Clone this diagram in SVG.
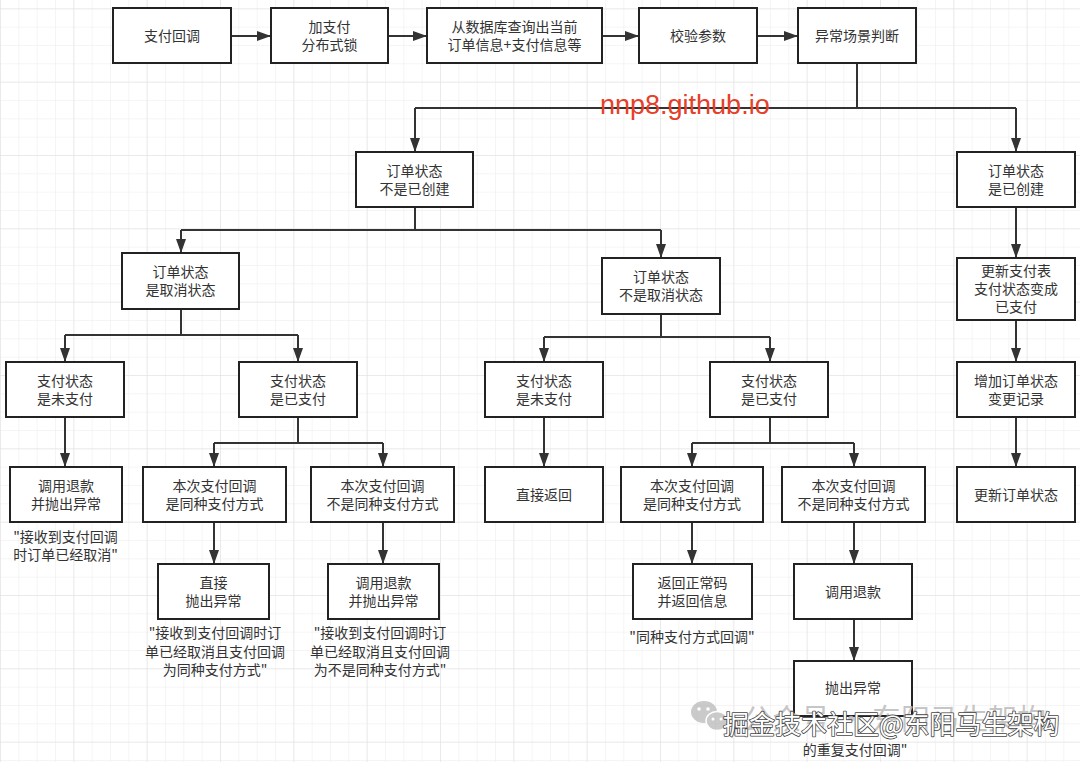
<svg xmlns="http://www.w3.org/2000/svg" width="1080" height="762" viewBox="0 0 1080 762">
<style>
.b{fill:#fff;stroke:#222;stroke-width:2}
.t{font-family:"Noto Sans CJK SC","Noto Sans",sans-serif;font-size:14px;fill:#333;text-anchor:middle}
.c{fill:none;stroke:#333;stroke-width:2}
.a{fill:none;stroke:#333;stroke-width:2;marker-end:url(#ah)}
</style>
<defs>
<marker id="ah" markerUnits="userSpaceOnUse" markerWidth="14" markerHeight="10" refX="13" refY="5" orient="auto">
<path d="M0,0 L14,5 L0,10 Z" fill="#333"/>
</marker>
<pattern id="gmin" patternUnits="userSpaceOnUse" x="0" y="8.333" width="18.333" height="18.333">
<path d="M0,0 H18.333 M0,0 V18.333" fill="none" stroke="#ececec" stroke-width="1"/>
</pattern>
<pattern id="gmaj" patternUnits="userSpaceOnUse" x="0" y="8.333" width="73.333" height="73.333">
<path d="M0,0 H73.333 M0,0 V73.333" fill="none" stroke="#e0e0e0" stroke-width="1"/>
</pattern>
</defs>
<rect width="1080" height="762" fill="#fff"/>
<rect width="1080" height="762" fill="url(#gmin)"/>
<rect width="1080" height="762" fill="url(#gmaj)"/>

<g id="connectors">
<path class="a" d="M231,36 H270"/>
<path class="a" d="M388,36 H426"/>
<path class="a" d="M602,36 H638"/>
<path class="a" d="M757,36 H797"/>
<path class="c" d="M857,63 V108"/>
<path class="c" d="M415,108 H1016"/>
<path class="a" d="M415,108 V151"/>
<path class="a" d="M1016,108 V151"/>
<path class="c" d="M415,207 V230"/>
<path class="c" d="M181,230 H661"/>
<path class="a" d="M181,230 V252"/>
<path class="a" d="M661,230 V257"/>
<path class="a" d="M1016,207 V257"/>
<path class="a" d="M1016,320 V361"/>
<path class="a" d="M1016,417 V466"/>
<path class="c" d="M181,309 V335"/>
<path class="c" d="M65,335 H298"/>
<path class="a" d="M65,335 V361"/>
<path class="a" d="M298,335 V361"/>
<path class="c" d="M661,314 V337"/>
<path class="c" d="M544,337 H770"/>
<path class="a" d="M544,337 V361"/>
<path class="a" d="M770,337 V361"/>
<path class="a" d="M65,417 V466"/>
<path class="c" d="M298,417 V443"/>
<path class="c" d="M214,443 H383"/>
<path class="a" d="M214,443 V466"/>
<path class="a" d="M383,443 V466"/>
<path class="a" d="M214,522 V563"/>
<path class="a" d="M383,522 V563"/>
<path class="a" d="M544,417 V466"/>
<path class="c" d="M770,417 V443"/>
<path class="c" d="M692,443 H854"/>
<path class="a" d="M692,443 V466"/>
<path class="a" d="M854,443 V466"/>
<path class="a" d="M692,522 V563"/>
<path class="a" d="M854,522 V563"/>
<path class="a" d="M854,619 V660"/>
</g>

<g id="n1"><rect class="b" x="113" y="8" width="118" height="55"/><text class="t" x="172" y="41">支付回调</text></g>
<g id="n2"><rect class="b" x="271" y="8" width="117" height="55"/><text class="t" x="329.5" y="32">加支付</text><text class="t" x="329.5" y="50">分布式锁</text></g>
<g id="n3"><rect class="b" x="427" y="8" width="175" height="55"/><text class="t" x="514.5" y="32">从数据库查询出当前</text><text class="t" x="514.5" y="50">订单信息+支付信息等</text></g>
<g id="n4"><rect class="b" x="639" y="8" width="118" height="55"/><text class="t" x="698" y="41">校验参数</text></g>
<g id="n5"><rect class="b" x="798" y="8" width="118" height="55"/><text class="t" x="857" y="41">异常场景判断</text></g>

<g id="n6"><rect class="b" x="356" y="152" width="117" height="55"/><text class="t" x="414.5" y="176">订单状态</text><text class="t" x="414.5" y="194">不是已创建</text></g>
<g id="n7"><rect class="b" x="957" y="152" width="118" height="55"/><text class="t" x="1016" y="176">订单状态</text><text class="t" x="1016" y="194">是已创建</text></g>

<g id="n8"><rect class="b" x="122" y="253" width="117" height="56"/><text class="t" x="180.5" y="277">订单状态</text><text class="t" x="180.5" y="295">是取消状态</text></g>
<g id="n9"><rect class="b" x="602" y="258" width="118" height="56"/><text class="t" x="661" y="282">订单状态</text><text class="t" x="661" y="300">不是取消状态</text></g>
<g id="n10"><rect class="b" x="957" y="258" width="118" height="62"/><text class="t" x="1016" y="276">更新支付表</text><text class="t" x="1016" y="294">支付状态变成</text><text class="t" x="1016" y="312">已支付</text></g>
<g id="n11"><rect class="b" x="957" y="362" width="118" height="55"/><text class="t" x="1016" y="386">增加订单状态</text><text class="t" x="1016" y="404">变更记录</text></g>
<g id="n12"><rect class="b" x="957" y="467" width="118" height="55"/><text class="t" x="1016" y="500">更新订单状态</text></g>

<g id="n13"><rect class="b" x="6" y="362" width="118" height="55"/><text class="t" x="65" y="386">支付状态</text><text class="t" x="65" y="404">是未支付</text></g>
<g id="n14"><rect class="b" x="239" y="362" width="118" height="55"/><text class="t" x="298" y="386">支付状态</text><text class="t" x="298" y="404">是已支付</text></g>
<g id="n15"><rect class="b" x="485" y="362" width="118" height="55"/><text class="t" x="544" y="386">支付状态</text><text class="t" x="544" y="404">是未支付</text></g>
<g id="n16"><rect class="b" x="710" y="362" width="118" height="55"/><text class="t" x="769" y="386">支付状态</text><text class="t" x="769" y="404">是已支付</text></g>

<g id="n17"><rect class="b" x="10" y="467" width="112" height="55"/><text class="t" x="66" y="491">调用退款</text><text class="t" x="66" y="509">并抛出异常</text>
<text class="t" x="65.5" y="542">"接收到支付回调</text><text class="t" x="65.5" y="560">时订单已经取消"</text></g>
<g id="n18"><rect class="b" x="143" y="467" width="143" height="55"/><text class="t" x="214.5" y="491">本次支付回调</text><text class="t" x="214.5" y="509">是同种支付方式</text></g>
<g id="n19"><rect class="b" x="311" y="467" width="143" height="55"/><text class="t" x="382.5" y="491">本次支付回调</text><text class="t" x="382.5" y="509">不是同种支付方式</text></g>
<g id="n20"><rect class="b" x="158" y="564" width="111" height="55"/><text class="t" x="213.5" y="588">直接</text><text class="t" x="213.5" y="606">抛出异常</text>
<text class="t" x="215" y="638">"接收到支付回调时订</text><text class="t" x="215" y="657">单已经取消且支付回调</text><text class="t" x="215" y="675">为同种支付方式"</text></g>
<g id="n21"><rect class="b" x="328" y="564" width="111" height="55"/><text class="t" x="383.5" y="588">调用退款</text><text class="t" x="383.5" y="606">并抛出异常</text>
<text class="t" x="380" y="638">"接收到支付回调时订</text><text class="t" x="380" y="657">单已经取消且支付回调</text><text class="t" x="380" y="675">为不是同种支付方式"</text></g>

<g id="n22"><rect class="b" x="485" y="467" width="118" height="55"/><text class="t" x="544" y="500">直接返回</text></g>
<g id="n23"><rect class="b" x="621" y="467" width="142" height="55"/><text class="t" x="692" y="491">本次支付回调</text><text class="t" x="692" y="509">是同种支付方式</text></g>
<g id="n24"><rect class="b" x="782" y="467" width="143" height="55"/><text class="t" x="853.5" y="491">本次支付回调</text><text class="t" x="853.5" y="509">不是同种支付方式</text></g>
<g id="n25"><rect class="b" x="633" y="564" width="119" height="55"/><text class="t" x="692.5" y="588">返回正常码</text><text class="t" x="692.5" y="606">并返回信息</text>
<text class="t" x="692" y="642">"同种支付方式回调"</text></g>
<g id="n26"><rect class="b" x="794" y="564" width="118" height="55"/><text class="t" x="853" y="597">调用退款</text></g>
<g id="n27"><rect class="b" x="794" y="661" width="118" height="55"/><text class="t" x="853" y="693">抛出异常</text>
<text class="t" x="855" y="755">的重复支付回调"</text></g>

<g id="watermarks">
<text x="600" y="114" font-family="Liberation Sans, Arial, sans-serif" font-size="27" fill="#e5402a">nnp8.github.io</text>
<g opacity="0.6" fill="#a8a8a8">
<ellipse cx="704" cy="712" rx="13" ry="11"/>
<ellipse cx="717" cy="721" rx="11" ry="9.5" stroke="#fff" stroke-width="1.5"/>
<circle cx="699" cy="709" r="1.8" fill="#fff"/><circle cx="708" cy="709" r="1.8" fill="#fff"/>
<circle cx="713" cy="719" r="1.5" fill="#fff"/><circle cx="721" cy="719" r="1.5" fill="#fff"/>
</g>
<text x="743" y="730" font-family="Noto Sans CJK SC, sans-serif" font-size="29" fill="#bcbcbc" fill-opacity="0.85">公众号 · 东阳马生架构</text>
<text x="723" y="734" font-family="Noto Sans CJK SC, sans-serif" font-size="26" fill="#fff" stroke="#444" stroke-width="1.6" paint-order="stroke" stroke-linejoin="round">掘金技术社区@东阳马生架构</text>
</g>
</svg>
